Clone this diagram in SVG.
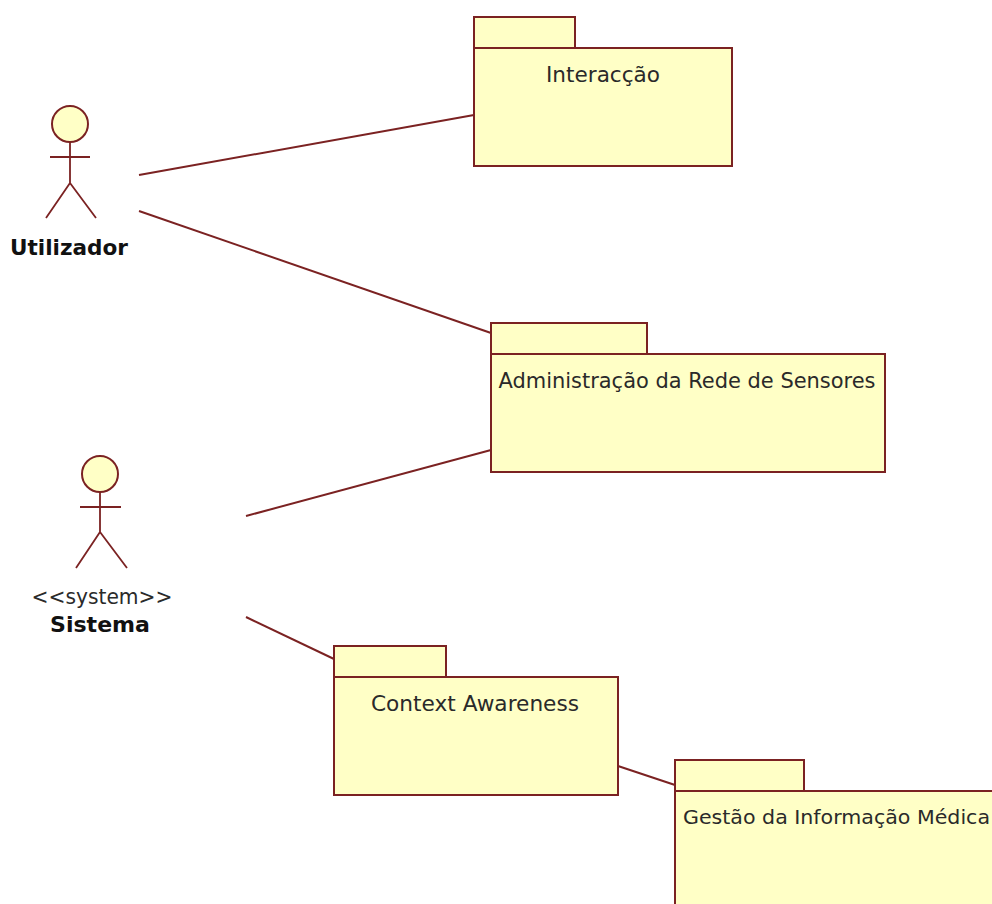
<svg xmlns="http://www.w3.org/2000/svg" width="992" height="904" viewBox="0 0 992 904">
<style>
.b{fill:#ffffc6;stroke:#7b2222;stroke-width:2}
.l{fill:none;stroke:#7b2222;stroke-width:2}
.a{fill:none;stroke:#7b2222;stroke-width:1.8}
text{font-family:"DejaVu Sans","Noto Sans",sans-serif;font-size:22px;fill:#2a2a2a}
.n{font-weight:bold;fill:#111;font-size:22px}
.s{font-size:20px}
</style>
<rect width="992" height="904" fill="#fff"/>
<g id="connectors">
<path class="l" d="M139 175L474 115"/>
<path class="l" d="M139 211L491 333"/>
<path class="l" d="M246 516L491 450"/>
<path class="l" d="M246 617L334 659"/>
<path class="l" d="M618 766L675 785"/>
</g>
<g id="actor-utilizador">
<circle class="b" cx="70" cy="124" r="18"/>
<path class="a" d="M70 142V183M50 157H90M70 183L46 218M70 183L96 218"/>
<text class="n" x="69" y="255" text-anchor="middle" textLength="118" lengthAdjust="spacingAndGlyphs">Utilizador</text>
</g>
<g id="actor-sistema">
<circle class="b" cx="100" cy="474" r="18"/>
<path class="a" d="M100 492V532M80 507H121M100 532L76 568M100 532L127 568"/>
<text x="102" y="604" text-anchor="middle" textLength="141" lengthAdjust="spacingAndGlyphs">&lt;&lt;system&gt;&gt;</text>
<text class="n" x="100" y="632" text-anchor="middle" textLength="100" lengthAdjust="spacingAndGlyphs">Sistema</text>
</g>
<g id="pkg-interaccao">
<rect class="b" x="474" y="17" width="101" height="31"/>
<rect class="b" x="474" y="48" width="258" height="118"/>
<text x="603" y="82" text-anchor="middle" textLength="114" lengthAdjust="spacingAndGlyphs">Interacção</text>
</g>
<g id="pkg-administracao">
<rect class="b" x="491" y="323" width="156" height="31"/>
<rect class="b" x="491" y="354" width="394" height="118"/>
<text x="687" y="388" text-anchor="middle" textLength="377" lengthAdjust="spacingAndGlyphs">Administração da Rede de Sensores</text>
</g>
<g id="pkg-context">
<rect class="b" x="334" y="646" width="112" height="31"/>
<rect class="b" x="334" y="677" width="284" height="118"/>
<text x="475" y="711" text-anchor="middle" textLength="208" lengthAdjust="spacingAndGlyphs">Context Awareness</text>
</g>
<g id="pkg-gestao">
<rect class="b" x="675" y="760" width="129" height="31"/>
<rect class="b" x="675" y="791" width="340" height="130"/>
<text class="s" x="683" y="824" textLength="307" lengthAdjust="spacingAndGlyphs">Gestão da Informação Médica</text>
</g>
</svg>
